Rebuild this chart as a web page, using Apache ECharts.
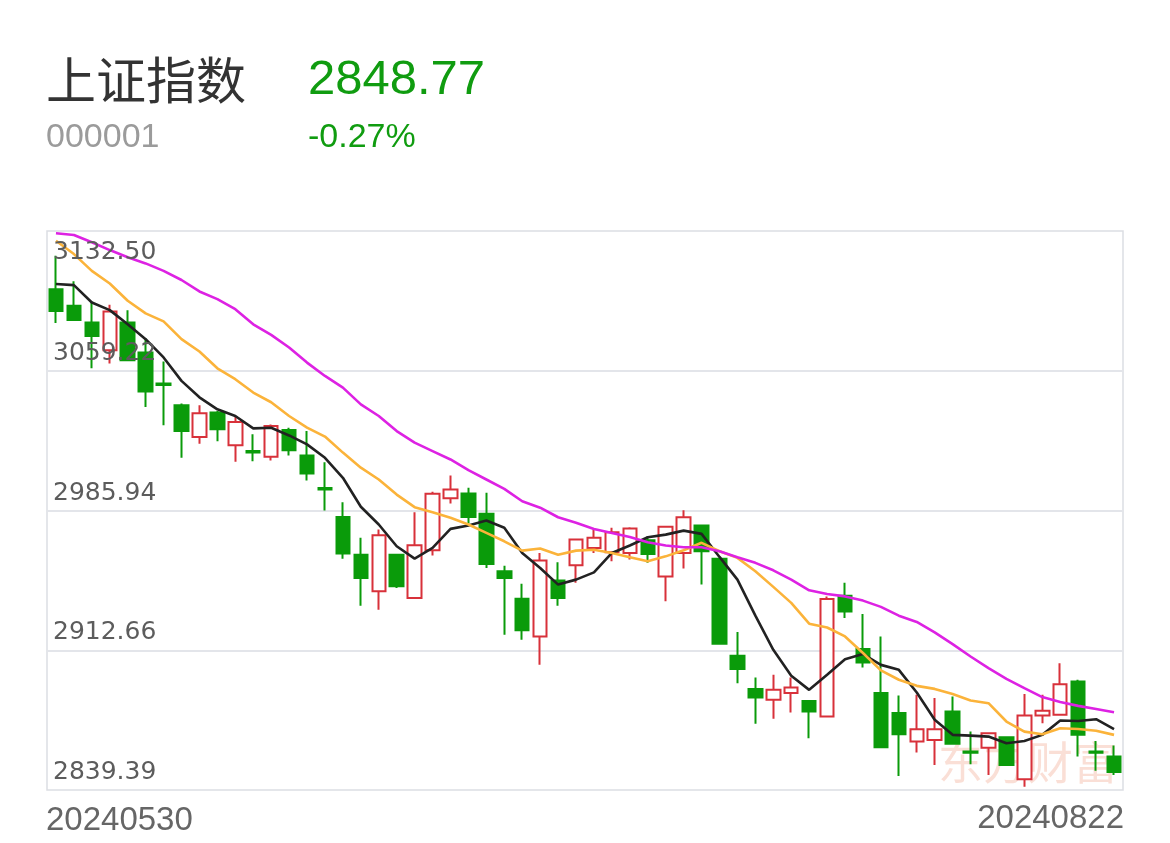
<!DOCTYPE html>
<html>
<head>
<meta charset="utf-8">
<script src="https://cdn.jsdelivr.net/npm/echarts@6/dist/echarts.min.js"></script>
<style>
html,body{margin:0;padding:0;background:#fff;}
#chart{width:1170px;height:843px;}
</style>
</head>
<body>
<div id="chart"></div>
<script>
const indexName = '上证指数';
const indexCode = '000001';
const lastPrice = '2848.77';
const changePct = '-0.27%';
const watermark = '东方财富';

const dates = ['20240530','20240531','20240603','20240604','20240605','20240606','20240607','20240611','20240612','20240613',
'20240614','20240617','20240618','20240619','20240620','20240621','20240624','20240625','20240626','20240627',
'20240628','20240701','20240702','20240703','20240704','20240705','20240708','20240709','20240710','20240711',
'20240712','20240715','20240716','20240717','20240718','20240719','20240722','20240723','20240724','20240725',
'20240726','20240729','20240730','20240731','20240801','20240802','20240805','20240806','20240807','20240808',
'20240809','20240812','20240813','20240814','20240815','20240816','20240819','20240820','20240821','20240822'];

const opens = [3102.0,3093.3,3084.5,3070.0,3084.5,3068.8,3052.6,3041.1,3024.5,3037.3,
3020.2,3017.1,3014.1,3028.1,3014.8,2997.8,2982.6,2962.7,2943.6,2962.7,
2940.1,2965.1,2992.4,2994.9,2984.2,2954.1,2939.7,2919.9,2949.2,2957.2,
2966.3,2964.0,2963.7,2970.3,2951.4,2963.7,2978.1,2960.6,2909.8,2892.3,
2886.7,2890.2,2886.0,2877.9,2941.3,2913.3,2890.2,2879.7,2864.8,2865.6,
2880.5,2859.6,2861.6,2867.1,2845.0,2878.4,2878.8,2896.3,2859.6,2856.9];
const closes = [3090.6,3085.8,3077.5,3090.3,3064.7,3048.3,3051.8,3027.6,3036.9,3028.5,
3032.3,3016.3,3030.2,3017.6,3005.4,2997.0,2963.4,2950.6,2973.0,2946.2,
2967.7,2994.7,2997.0,2982.6,2957.9,2950.6,2923.1,2959.7,2940.1,2970.7,
2971.6,2974.5,2976.5,2963.2,2977.4,2982.4,2964.6,2916.1,2902.9,2887.9,
2891.9,2893.1,2880.5,2939.6,2933.0,2906.3,2861.8,2868.6,2871.3,2871.3,
2863.6,2858.9,2869.2,2852.5,2878.4,2880.9,2894.9,2868.3,2858.9,2848.77];
const lows = [3084.2,3085.5,3060.5,3063.0,3064.4,3040.2,3030.6,3013.6,3021.0,3022.3,
3011.5,3011.8,3012.2,3014.8,3001.7,2985.9,2960.6,2936.0,2933.9,2945.3,
2940.1,2962.3,2989.6,2979.1,2955.8,2920.8,2918.2,2905.0,2936.0,2948.0,
2963.7,2959.3,2960.2,2958.5,2938.3,2955.5,2947.1,2916.1,2895.4,2874.1,
2876.7,2880.0,2866.5,2877.9,2929.6,2903.6,2861.8,2846.7,2859.0,2852.5,
2863.6,2852.9,2847.3,2852.5,2841.1,2874.4,2878.8,2856.9,2849.5,2847.3];
const highs = [3119.5,3106.1,3095.6,3093.8,3091.0,3076.3,3064.1,3042.0,3041.1,3038.1,
3035.5,3025.9,3031.1,3029.4,3027.6,3011.3,2990.3,2971.6,2976.0,2963.2,
2985.0,2995.8,3004.3,2997.9,2995.2,2957.0,2947.6,2963.7,2958.8,2971.1,
2976.0,2976.9,2977.2,2972.4,2977.7,2986.1,2978.6,2960.6,2922.2,2898.4,
2899.8,2898.4,2886.0,2940.9,2948.0,2931.7,2919.9,2888.9,2889.3,2887.6,
2888.4,2870.0,2869.5,2867.4,2889.7,2889.3,2905.9,2897.2,2865.1,2862.7];

const ma5 = [3104.7,3104.1,3095.0,3091.0,3083.6,3075.8,3066.2,3053.9,3045.3,3039.0,
3035.5,3029.0,3029.3,3025.3,3020.6,3013.6,3003.1,2987.9,2978.6,2967.2,
2960.7,2966.3,2976.3,2978.1,2980.7,2976.9,2963.7,2955.8,2947.1,2949.7,
2953.5,2963.7,2967.6,2971.9,2973.3,2975.4,2973.7,2961.6,2949.7,2930.8,
2912.9,2899.3,2891.9,2899.8,2908.0,2910.7,2905.0,2902.4,2890.5,2876.2,
2868.3,2867.9,2867.4,2863.9,2865.1,2868.3,2875.8,2875.6,2876.5,2871.3];
const ma10 = [3127.4,3120.4,3111.6,3105.0,3095.9,3089.3,3085.1,3075.8,3069.3,3060.5,
3054.8,3047.8,3042.7,3035.5,3029.4,3024.7,3016.3,3008.4,3002.2,2994.3,
2987.7,2985.0,2982.1,2978.6,2974.2,2969.8,2964.9,2966.0,2962.7,2964.9,
2965.4,2963.7,2961.4,2959.3,2961.9,2965.1,2969.0,2964.6,2961.1,2954.1,
2945.9,2937.5,2926.6,2924.6,2919.9,2911.2,2902.1,2897.2,2894.0,2892.4,
2889.7,2886.3,2884.9,2875.3,2870.0,2868.6,2871.8,2871.4,2870.5,2868.3];
const ma20 = [3131.3,3130.4,3126.6,3122.5,3118.7,3115.5,3111.6,3106.8,3100.8,3096.8,
3091.5,3083.6,3078.0,3071.4,3063.5,3056.5,3050.4,3041.6,3035.5,3027.6,
3021.5,3017.1,3012.7,3007.1,3002.2,2997.3,2990.8,2987.4,2982.4,2979.5,
2976.3,2974.2,2972.1,2969.3,2967.6,2966.7,2966.7,2964.6,2961.4,2958.5,
2954.6,2949.7,2944.1,2942.2,2940.9,2938.7,2935.4,2930.8,2927.5,2922.0,
2915.9,2909.4,2903.3,2897.7,2892.8,2888.1,2885.5,2883.5,2881.9,2880.2];

const tickLabels = ['3132.50','3059.22','2985.94','2912.66','2839.39'];

const tickValues = tickLabels.map(Number);
const yMax = Math.max.apply(null, tickValues);
const yMin = Math.min.apply(null, tickValues);
const candles = dates.map((d, i) => [opens[i], closes[i], lows[i], highs[i]]);

const GREEN = '#0a9b0a';
const RED = '#d8313a';
const NUM_FONT = "'Liberation Sans', Arial, Helvetica, sans-serif";

const chart = echarts.init(document.getElementById('chart'), null, {renderer: 'canvas'});
chart.setOption({
  animation: false,
  backgroundColor: '#ffffff',
  grid: {left: 47, right: 47, top: 231, bottom: 53, show: true, borderColor: '#dcdee3', borderWidth: 1.5},
  xAxis: {
    type: 'category', data: dates, boundaryGap: true,
    axisLine: {show: false}, axisTick: {show: false}, axisLabel: {show: false}, splitLine: {show: false}
  },
  yAxis: {
    type: 'value', min: yMin, max: yMax, scale: true,
    axisLine: {show: false}, axisTick: {show: false}, axisLabel: {show: false}, splitLine: {show: false}
  },
  series: [
    {
      type: 'candlestick', data: candles, barWidth: 14, z: 2,
      itemStyle: {color: '#ffffff', color0: GREEN, borderColor: RED, borderColor0: GREEN, borderWidth: 2},
      markLine: {
        silent: true, symbol: 'none', z: 1, animation: false,
        label: {show: false},
        lineStyle: {color: '#e3e5ea', width: 2, type: 'solid'},
        data: tickValues.slice(1, tickValues.length - 1).map(v => ({yAxis: v}))
      }
    },
    {type: 'line', data: ma5, showSymbol: false, symbol: 'none', z: 3,
      lineStyle: {color: '#222222', width: 2.6}},
    {type: 'line', data: ma10, showSymbol: false, symbol: 'none', z: 3,
      lineStyle: {color: '#fbb33a', width: 2.6}},
    {type: 'line', data: ma20, showSymbol: false, symbol: 'none', z: 3,
      lineStyle: {color: '#dd22e3', width: 2.6},
      markLine: {
        silent: true, symbol: 'none', z: 10, animation: false,
        lineStyle: {color: 'rgba(255,255,255,0)', width: 1, type: 'solid'},
        label: {
          show: true, color: '#5c5c5c', fontSize: 25, fontFamily: "'DejaVu Sans', sans-serif",
          formatter: p => tickLabels[tickValues.indexOf(p.value)] || String(p.value)
        },
        data: tickValues.map(v => ({
          yAxis: v,
          label: v === yMax
            ? {position: 'insideStartBottom', distance: [6, 9]}
            : {position: 'insideStartTop', distance: [6, 5]}
        }))
      }
    }
  ],
  graphic: [
    {type: 'text', x: 1028, y: 763, z: 0, silent: true,
      style: {text: watermark, fill: 'rgba(240,150,120,0.3)', font: "45px 'Noto Sans CJK SC'", textAlign: 'center', textVerticalAlign: 'middle'}},
    {type: 'text', x: 46, y: 80,
      style: {text: indexName, fill: '#333333', font: "50px 'Noto Sans CJK SC'", textAlign: 'left', textVerticalAlign: 'middle'}},
    {type: 'text', x: 308, y: 80,
      style: {text: lastPrice, fill: '#109c10', font: '49px ' + NUM_FONT, textAlign: 'left', textVerticalAlign: 'middle'}},
    {type: 'text', x: 46, y: 138,
      style: {text: indexCode, fill: '#9b9b9b', font: '34px ' + NUM_FONT, textAlign: 'left', textVerticalAlign: 'middle'}},
    {type: 'text', x: 308, y: 138,
      style: {text: changePct, fill: '#109c10', font: '34px ' + NUM_FONT, textAlign: 'left', textVerticalAlign: 'middle'}},
    {type: 'text', x: 46, y: 821,
      style: {text: dates[0], fill: '#666666', font: '33px ' + NUM_FONT, textAlign: 'left', textVerticalAlign: 'middle'}},
    {type: 'text', x: 1124, y: 819,
      style: {text: dates[dates.length - 1], fill: '#666666', font: '33px ' + NUM_FONT, textAlign: 'right', textVerticalAlign: 'middle'}}
  ]
});
</script>
</body>
</html>
